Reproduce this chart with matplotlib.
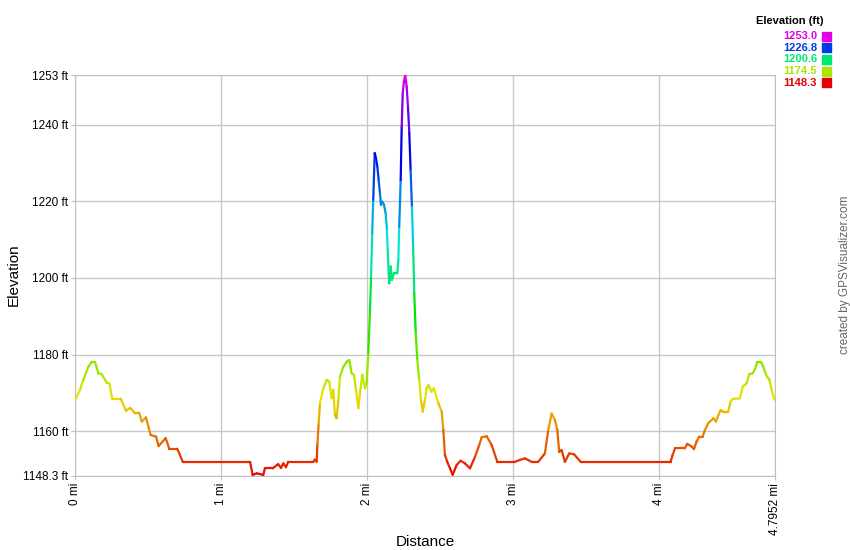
#!/usr/bin/env python3
import colorsys

import numpy as np
import matplotlib
matplotlib.use('Agg')
from matplotlib import pyplot as plt
from matplotlib.collections import LineCollection

plt.rcParams['font.family'] = ['Liberation Sans', 'DejaVu Sans']

# distance along the track (mi) and elevation (ft)
distance_mi = [
    0.000, 0.034, 0.057, 0.091, 0.114, 0.137, 0.160, 0.183, 0.217, 0.235,
    0.255, 0.313, 0.349, 0.377, 0.411, 0.440, 0.457, 0.486, 0.518, 0.555,
    0.573, 0.621, 0.646, 0.701, 0.738, 1.199, 1.217, 1.245, 1.290, 1.301,
    1.354, 1.392, 1.411, 1.427, 1.445, 1.461, 1.632, 1.644, 1.656, 1.660,
    1.669, 1.678, 1.701, 1.724, 1.742, 1.758, 1.769, 1.781, 1.792, 1.804,
    1.815, 1.838, 1.861, 1.879, 1.895, 1.911, 1.925, 1.941, 1.952, 1.968,
    1.986, 1.998, 2.009, 2.021, 2.028, 2.036, 2.043, 2.053, 2.062, 2.071,
    2.080, 2.089, 2.096, 2.105, 2.117, 2.128, 2.137, 2.142, 2.149, 2.153,
    2.163, 2.171, 2.185, 2.208, 2.215, 2.221, 2.231, 2.238, 2.245, 2.253,
    2.262, 2.272, 2.281, 2.290, 2.299, 2.308, 2.317, 2.324, 2.334, 2.345,
    2.358, 2.370, 2.382, 2.397, 2.409, 2.420, 2.443, 2.459, 2.489, 2.512,
    2.523, 2.534, 2.550, 2.569, 2.587, 2.615, 2.642, 2.671, 2.706, 2.740,
    2.769, 2.786, 2.820, 2.854, 2.893, 3.014, 3.048, 3.082, 3.128, 3.173,
    3.219, 3.242, 3.265, 3.288, 3.304, 3.317, 3.333, 3.356, 3.386, 3.418,
    3.464, 4.080, 4.094, 4.110, 4.178, 4.194, 4.224, 4.240, 4.258, 4.276,
    4.300, 4.315, 4.338, 4.361, 4.373, 4.391, 4.407, 4.423, 4.441, 4.475,
    4.491, 4.505, 4.555, 4.574, 4.601, 4.619, 4.642, 4.658, 4.674, 4.699,
    4.715, 4.734, 4.757, 4.772, 4.788, 4.7952,
]
elevation_ft = [
    1168.1, 1170.8, 1173.4, 1176.8, 1178.1, 1178.1, 1175.1, 1174.9, 1172.7, 1172.5,
    1168.5, 1168.5, 1165.3, 1166.1, 1164.7, 1164.8, 1162.5, 1163.6, 1159.0, 1158.6,
    1156.1, 1158.2, 1155.4, 1155.4, 1152.0, 1152.0, 1148.6, 1149.0, 1148.6, 1150.3,
    1150.3, 1151.4, 1150.4, 1151.6, 1150.6, 1152.0, 1152.0, 1152.6, 1152.0, 1156.4,
    1162.0, 1167.3, 1171.2, 1173.4, 1172.9, 1168.6, 1170.8, 1164.2, 1163.4, 1168.1,
    1174.2, 1176.8, 1178.1, 1178.6, 1175.1, 1174.7, 1170.8, 1166.0, 1169.9, 1174.7,
    1171.2, 1172.5, 1180.3, 1191.6, 1200.3, 1211.7, 1220.4, 1232.6, 1231.3, 1229.1,
    1225.6, 1222.1, 1219.1, 1219.9, 1219.1, 1216.9, 1212.5, 1207.3, 1201.2, 1198.6,
    1203.0, 1199.5, 1201.2, 1201.2, 1204.7, 1213.4, 1225.6, 1239.5, 1248.2, 1251.2,
    1253.0, 1250.0, 1244.7, 1237.8, 1228.2, 1218.6, 1207.3, 1196.0, 1185.6, 1178.6,
    1173.4, 1168.1, 1165.1, 1168.1, 1171.2, 1172.1, 1170.3, 1171.2, 1167.3, 1165.1,
    1160.3, 1153.8, 1152.0, 1150.3, 1148.6, 1151.2, 1152.3, 1151.6, 1150.3, 1153.3,
    1156.4, 1158.4, 1158.7, 1156.4, 1152.0, 1152.0, 1152.5, 1152.9, 1152.0, 1152.0,
    1154.2, 1160.3, 1164.6, 1162.9, 1160.3, 1154.6, 1155.1, 1152.0, 1154.2, 1154.0,
    1152.0, 1152.0, 1153.8, 1155.5, 1155.5, 1156.7, 1156.0, 1155.3, 1157.3, 1158.6,
    1158.6, 1160.3, 1162.1, 1162.9, 1163.4, 1162.5, 1164.2, 1165.5, 1165.1, 1165.1,
    1167.7, 1168.4, 1168.6, 1171.6, 1172.5, 1174.9, 1175.1, 1176.2, 1178.1, 1178.1,
    1176.8, 1174.7, 1173.4, 1170.8, 1168.6, 1168.1,
]

ele_min, ele_max = 1148.3, 1253.0
total_mi = 4.7952
y_ticks = [1148.3, 1160, 1180, 1200, 1220, 1240, 1253]
x_ticks = [0, 1, 2, 3, 4, total_mi]
legend_values = [1253.0, 1226.8, 1200.6, 1174.5, 1148.3]


def elevationColor(ft):
    # hue runs red -> magenta over the elevation range
    frac = (ft - ele_min) / (ele_max - ele_min)
    frac = min(max(frac, 0), 1)
    return colorsys.hsv_to_rgb(frac * 300 / 360, 1.0, 0.9)


fig = plt.figure(figsize=(8.5, 5.5), dpi=100)
ax = fig.add_axes([75 / 850, 1 - 476 / 550, 700 / 850, 401 / 550])

x = np.array(distance_mi)
y = np.array(elevation_ft)
points = np.column_stack([x, y]).reshape(-1, 1, 2)
segments = np.concatenate([points[:-1], points[1:]], axis=1)
colors = [elevationColor((a + b) / 2) for a, b in zip(y[:-1], y[1:])]
lc = LineCollection(segments, colors=colors, linewidth=1.6,
                    capstyle='round', joinstyle='round', zorder=3)
ax.add_collection(lc)

ax.set_xlim(0, total_mi)
ax.set_ylim(ele_min, ele_max)

ax.set_xticks(x_ticks)
ax.set_xticklabels(['0 mi', '1 mi', '2 mi', '3 mi', '4 mi', '4.7952 mi'],
                   rotation=90, fontsize=8.5)
ax.set_yticks(y_ticks)
ax.set_yticklabels(['1148.3 ft', '1160 ft', '1180 ft', '1200 ft',
                    '1220 ft', '1240 ft', '1253 ft'], fontsize=8.5)
ax.tick_params(length=3, color='#c0c0c0', pad=2)
ax.grid(True, color='#c8c8c8', linewidth=1)
for spine in ax.spines.values():
    spine.set_color('#c0c0c0')

# axis titles placed where the reference has them
fig.text(425 / 850, 1 - 542 / 550, 'Distance', ha='center', va='center',
         fontsize=11)
fig.text(14 / 850, 1 - 275 / 550, 'Elevation', ha='center', va='center',
         rotation=90, fontsize=11)

# legend in the top right corner
fig.text(790 / 850, 1 - 21 / 550, 'Elevation (ft)', ha='center', va='center',
         fontsize=8, fontweight='bold')
for i, val in enumerate(legend_values):
    ypos = 1 - (36 + i * 11.7) / 550
    col = elevationColor(val)
    fig.text(817 / 850, ypos, '%.1f' % val, ha='right', va='center',
             fontsize=8, fontweight='bold', color=col)
    fig.patches.append(plt.Rectangle((822 / 850, ypos - 4.5 / 550), 9 / 850, 9 / 550,
                                     transform=fig.transFigure, color=col,
                                     figure=fig))

fig.text(845 / 850, 1 - 275 / 550, 'created by GPSVisualizer.com', rotation=90,
         ha='center', va='center', fontsize=8.5, color='#666666')

fig.savefig('out.png', dpi=100)
